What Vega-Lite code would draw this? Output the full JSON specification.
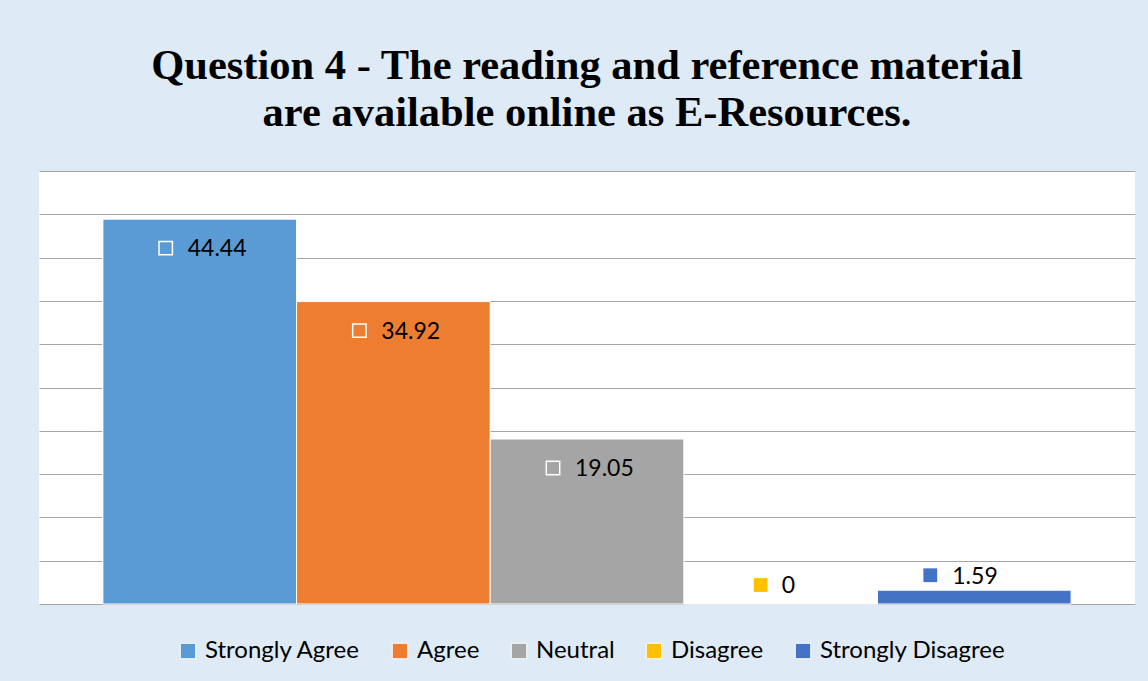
{
  "$schema": "https://vega.github.io/schema/vega-lite/v6.json",
  "width": 1096,
  "height": 433,
  "autosize": {"type": "none"},
  "padding": {"left": 39, "top": 171, "right": 13, "bottom": 77},
  "background": "#DEEAF6",
  "title": {
    "text": ["Question 4 - The reading and reference material", "are available online as E-Resources."],
    "font": "Liberation Serif",
    "fontSize": 42.5,
    "fontWeight": "bold",
    "color": "#000000",
    "lineHeight": 47,
    "anchor": "middle",
    "offset": 37
  },
  "data": {
    "values": [
      {"response": "Strongly Agree", "percent": 44.44},
      {"response": "Agree", "percent": 34.92},
      {"response": "Neutral", "percent": 19.05},
      {"response": "Disagree", "percent": 0},
      {"response": "Strongly Disagree", "percent": 1.59}
    ]
  },
  "encoding": {
    "x": {
      "field": "response",
      "type": "nominal",
      "sort": null,
      "axis": null,
      "scale": {"paddingInner": 0, "paddingOuter": 0.33}
    },
    "y": {
      "field": "percent",
      "type": "quantitative",
      "scale": {"domain": [0, 50], "nice": false},
      "axis": {
        "title": null,
        "labels": false,
        "ticks": false,
        "domain": false,
        "grid": true,
        "gridColor": "#A6A6A6",
        "gridWidth": 1,
        "values": [0, 5, 10, 15, 20, 25, 30, 35, 40, 45, 50]
      }
    }
  },
  "layer": [
    {
      "mark": {"type": "bar", "stroke": "white", "strokeWidth": 1},
      "encoding": {
        "color": {
          "field": "response",
          "type": "nominal",
          "sort": null,
          "scale": {
            "domain": ["Strongly Agree", "Agree", "Neutral", "Disagree", "Strongly Disagree"],
            "range": ["#5B9BD5", "#ED7D31", "#A5A5A5", "#FFC000", "#4472C4"]
          },
          "legend": {
            "orient": "none",
            "legendX": 137,
            "legendY": 468,
            "direction": "horizontal",
            "columns": 5,
            "title": null,
            "symbolType": "square",
            "symbolSize": 240,
            "symbolStrokeColor": "white",
            "symbolStrokeWidth": 1,
            "labelFont": "Lato",
            "labelFontSize": 24,
            "labelColor": "#000000",
            "labelOffset": 5,
            "columnPadding": 27,
            "labelLimit": 400
          }
        }
      }
    },
    {
      "transform": [{"filter": "datum.percent > 5"}],
      "mark": {"type": "point", "shape": "square", "filled": false, "stroke": "white", "strokeWidth": 1.5, "size": 180, "xOffset": -34, "yOffset": 29, "opacity": 1}
    },
    {
      "transform": [{"filter": "datum.percent > 5"}],
      "mark": {"type": "text", "align": "left", "baseline": "middle", "dx": -12, "dy": 30, "font": "Lato", "fontSize": 23, "color": "#000000"},
      "encoding": {"text": {"field": "percent", "type": "nominal"}}
    },
    {
      "transform": [{"filter": "datum.response === 'Disagree'"}],
      "mark": {"type": "point", "shape": "square", "filled": true, "size": 190, "xOffset": -20, "yOffset": -19, "opacity": 1},
      "encoding": {"color": {"field": "response", "type": "nominal", "sort": null, "legend": null}}
    },
    {
      "transform": [{"filter": "datum.response === 'Disagree'"}],
      "mark": {"type": "text", "align": "left", "baseline": "middle", "dx": 1, "dy": -18, "font": "Lato", "fontSize": 23, "color": "#000000"},
      "encoding": {"text": {"field": "percent", "type": "nominal"}}
    },
    {
      "transform": [{"filter": "datum.response === 'Strongly Disagree'"}],
      "mark": {"type": "point", "shape": "square", "filled": true, "size": 190, "xOffset": -44, "yOffset": -15, "opacity": 1},
      "encoding": {"color": {"field": "response", "type": "nominal", "sort": null, "legend": null}}
    },
    {
      "transform": [{"filter": "datum.response === 'Strongly Disagree'"}],
      "mark": {"type": "text", "align": "left", "baseline": "middle", "dx": -22, "dy": -13, "font": "Lato", "fontSize": 23, "color": "#000000"},
      "encoding": {"text": {"field": "percent", "type": "nominal"}}
    }
  ],
  "config": {
    "view": {"fill": "white", "stroke": null}
  }
}
